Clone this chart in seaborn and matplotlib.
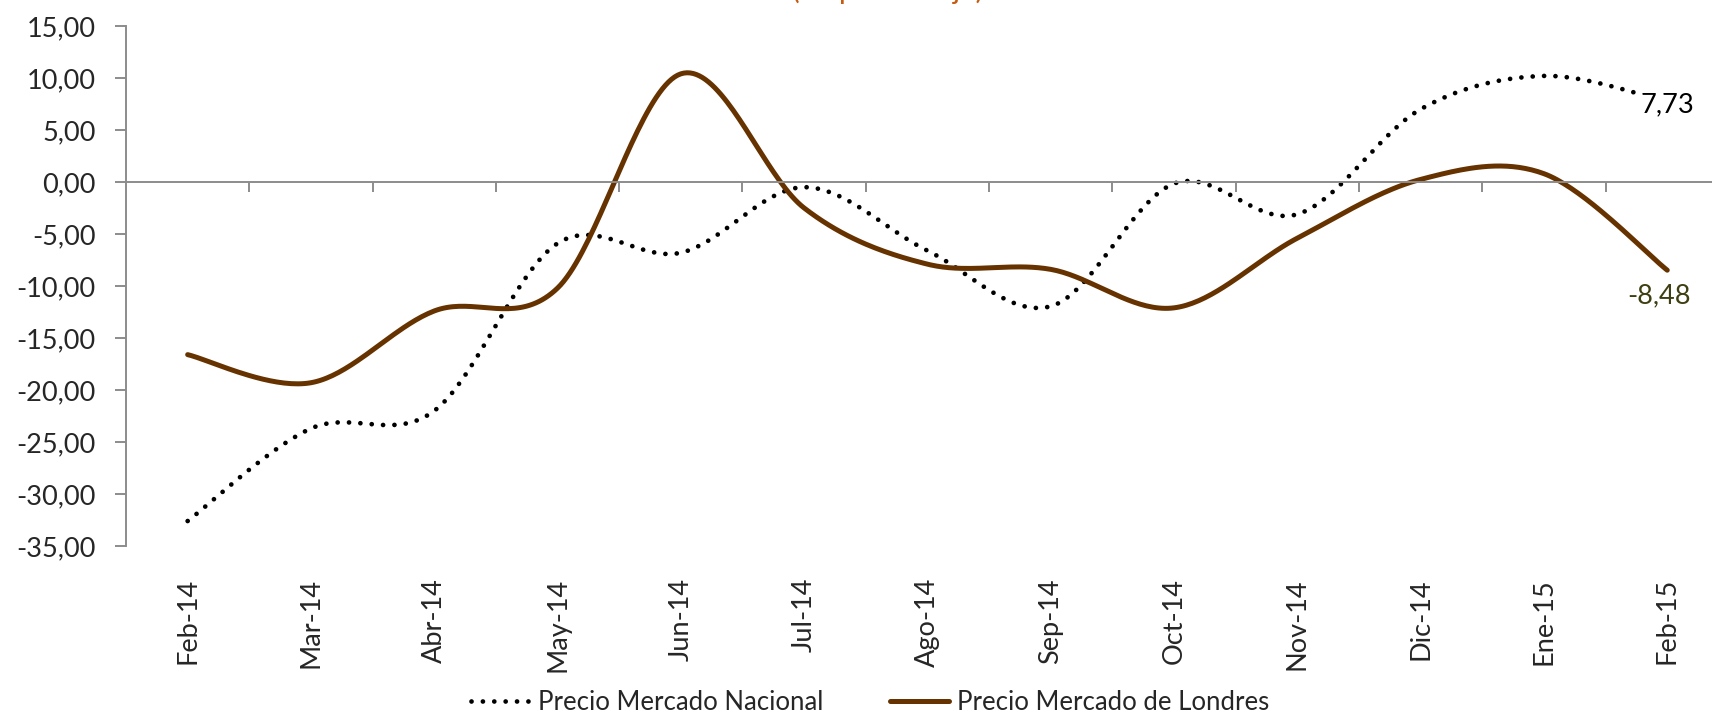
import numpy as np
import pandas as pd
import matplotlib
matplotlib.use("Agg")
import matplotlib.pyplot as plt
import seaborn as sns

meses = ["Feb-14", "Mar-14", "Abr-14", "May-14", "Jun-14", "Jul-14", "Ago-14",
         "Sep-14", "Oct-14", "Nov-14", "Dic-14", "Ene-15", "Feb-15"]
nacional = [-32.6, -23.7, -22.0, -5.9, -6.8, -0.5, -6.6,
            -11.95, -0.15, -3.1, 7.0, 10.2, 7.73]
londres = [-16.6, -19.3, -12.4, -10.2, 10.4, -2.5, -7.9,
           -8.4, -12.1, -5.4, 0.25, 0.8, -8.48]
yticks = [-35, -30, -25, -20, -15, -10, -5, 0, 5, 10, 15]

sns.set_style("white")
plt.rcParams['font.family'] = ['Lato', 'DejaVu Sans']

gris = '#8c8c8c'
marron = '#663300'


def suavizar(y, n=40):
    # curva suavizada tipo Excel (bezier con tangentes catmull-rom)
    pts = np.column_stack([np.arange(len(y)), y]).astype(float)
    ext = np.vstack([pts[0], pts, pts[-1]])
    out = []
    for i in range(len(y) - 1):
        p0, p1, p2, p3 = ext[i], ext[i + 1], ext[i + 2], ext[i + 3]
        c1 = p1 + (p2 - p0) / 6
        c2 = p2 - (p3 - p1) / 6
        t = np.linspace(0, 1, n, endpoint=(i == len(y) - 2))[:, None]
        out.append((1 - t) ** 3 * p1 + 3 * (1 - t) ** 2 * t * c1
                   + 3 * (1 - t) * t ** 2 * c2 + t ** 3 * p2)
    s = np.vstack(out)
    return pd.DataFrame({'x': s[:, 0], 'y': s[:, 1]})


fig = plt.figure(figsize=(17.12, 7.14), dpi=100)
ax = fig.add_axes([126 / 1712, 1 - 546 / 714, 13 * 123.3 / 1712, 520 / 714])

d1 = suavizar(nacional)
d2 = suavizar(londres)
sns.lineplot(data=d1, x='x', y='y', sort=False, estimator=None, ax=ax,
             color='black', linewidth=3.4, label='Precio Mercado Nacional')
sns.lineplot(data=d2, x='x', y='y', sort=False, estimator=None, ax=ax,
             color=marron, linewidth=3.6, label='Precio Mercado de Londres')
l1, l2 = ax.lines[0], ax.lines[1]
l1.set_linestyle((0, (0.01, 2.4)))
l1.set_dash_capstyle('round')
l2.set_solid_capstyle('round')
ax.get_legend().remove()

ax.set_xlim(-0.5, 12.5)
ax.set_ylim(-35, 15)
ax.set_xlabel('')
ax.set_ylabel('')

# ejes
for s in ['top', 'right']:
    ax.spines[s].set_visible(False)
ax.spines['left'].set_color(gris)
ax.spines['left'].set_linewidth(1.4)
ax.spines['bottom'].set_position(('data', 0))
ax.spines['bottom'].set_color(gris)
ax.spines['bottom'].set_linewidth(1.4)

ax.set_yticks(yticks)
ax.set_yticklabels([f"{v:.2f}".replace('.', ',') for v in yticks])
ax.tick_params(axis='y', direction='out', length=8, width=1.4, color=gris,
               labelsize=19.5, pad=14, left=True)
ax.set_xticks(np.arange(0.5, 13, 1))
ax.set_xticklabels([])
ax.tick_params(axis='x', direction='out', length=7, width=1.4, color=gris,
               bottom=True)

for i, m in enumerate(meses):
    ax.text(i, -32 / 520, m, transform=ax.get_xaxis_transform(), rotation=90,
            ha='center', va='top', fontsize=19.5)

# etiquetas de datos
ax.annotate(f"{nacional[-1]:.2f}".replace('.', ','), (12, nacional[-1]),
            xytext=(0, -3), textcoords='offset pixels', ha='center', va='center',
            fontsize=19.5, color='black',
            bbox=dict(boxstyle='square,pad=0.1', fc='white', ec='none'))
ax.annotate(f"{londres[-1]:.2f}".replace('.', ','), (12, londres[-1]),
            xytext=(-8, -26), textcoords='offset pixels', ha='center', va='center',
            fontsize=19.5, color='#3f3f12')

# titulo (cortado en el borde superior, como en el original)
fig.text(888 / 1712, 1 + 1 / 714, '(en porcentaje)', ha='center', va='baseline',
         fontsize=21, color='#c55a11')

fig.legend(handles=[l1, l2], loc='center', bbox_to_anchor=(870 / 1712, 1 - 702 / 714),
           ncol=2, frameon=False, fontsize=18.5, handlelength=2.3,
           handletextpad=0.3, columnspacing=2.6, borderpad=0)

fig.savefig('out.png', dpi=100)
